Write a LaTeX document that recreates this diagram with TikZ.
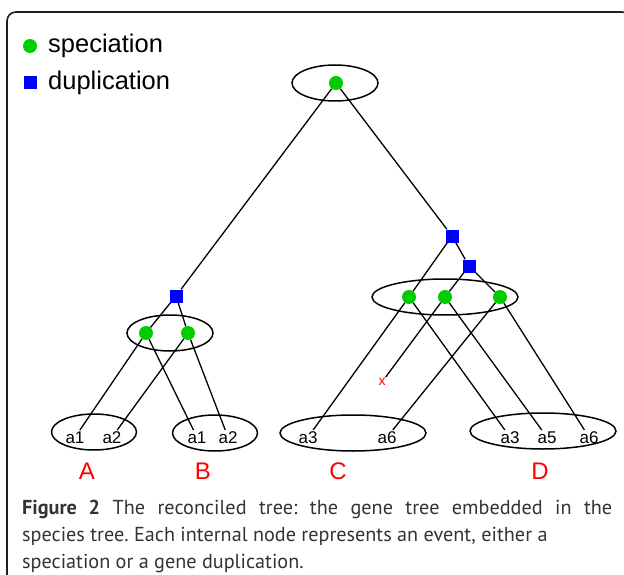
\documentclass[tikz,border=0pt]{standalone}
\usepackage{fontspec}
\setmainfont{Liberation Sans}
\newfontfamily\capfont{PT Sans}
\usetikzlibrary{shapes.geometric}
\definecolor{specgreen}{RGB}{0,204,0}
\definecolor{dupblue}{RGB}{0,0,255}
\definecolor{lblred}{RGB}{255,0,0}
\definecolor{framegray}{RGB}{30,30,30}
\tikzset{
  spec/.style={circle,fill=specgreen,draw=none,minimum size=14pt,inner sep=0pt},
  dup/.style={rectangle,fill=dupblue,draw=none,minimum size=13pt,inner sep=0pt},
  ell/.style={ellipse,draw=black,line width=1.5pt,minimum height=36pt,inner sep=0pt},
  leaf/.style={font=\fontsize{17}{17}\selectfont,inner sep=1pt,anchor=base},
  sp/.style={font=\fontsize{24}{24}\selectfont,text=lblred,inner sep=0pt,anchor=base},
  edge/.style={draw=black,line width=1.3pt},
  legtext/.style={font=\fontsize{25.5}{25.5}\selectfont,inner sep=0pt,anchor=base west},
  captext/.style={font=\capfont\frenchspacing\fontsize{20.2}{20.2}\selectfont,text=black!80,inner sep=0pt,anchor=base west}
}
\begin{document}
\begin{tikzpicture}[x=1pt,y=-1pt]
\useasboundingbox (0,0) rectangle (624,575);
\begin{scope}
\clip (0,0) rectangle (624,575);
\draw[framegray,line width=1.6pt,rounded corners=9pt] (7,600) -- (7,12) -- (631,12) -- (631,600);
\end{scope}

% legend
\node[spec] (lg) at (30,46) {};
\node[legtext] (lgt) at (48,53) {speciation};
\node[dup] (lb) at (30,83) {};
\node[legtext] (lbt) at (48,90) {duplication};

% ellipses (species tree)
\node[ell,minimum width=86pt] (eRoot) at (335,83) {};
\node[ell,minimum width=86pt] (eAB) at (170,333) {};
\node[ell,minimum width=146pt] (eCD) at (445,297) {};
\node[ell,minimum width=85pt] (eA) at (94,432) {};
\node[ell,minimum width=85pt] (eB) at (215,433) {};
\node[ell,minimum width=146pt] (eC) at (353,433) {};
\node[ell,minimum width=146pt] (eD) at (543,431) {};

% leaf labels
\node[leaf] (A1) at (75,443) {a1};
\node[leaf] (A2) at (112,443) {a2};
\node[leaf] (B1) at (197,443) {a1};
\node[leaf] (B2) at (228,443) {a2};
\node[leaf] (C3) at (308,443) {a3};
\node[leaf] (C6) at (387,443) {a6};
\node[leaf] (D3) at (510,443) {a3};
\node[leaf] (D5) at (547,443) {a5};
\node[leaf] (D6) at (589,443) {a6};
\node[font=\fontsize{14}{14}\selectfont,text=lblred,inner sep=1pt] (xm) at (382,382) {x};

% species letters
\node[sp] (sA) at (87,479) {A};
\node[sp] (sB) at (203,479) {B};
\node[sp] (sC) at (338,479) {C};
\node[sp] (sD) at (540,479) {D};

% gene tree events
\node[spec] (g0) at (336,83) {};
\node[dup] (d1) at (176,296) {};
\node[spec] (g1) at (146,333) {};
\node[spec] (g2) at (188,333) {};
\node[dup] (d2) at (452,236) {};
\node[dup] (d3) at (469,266) {};
\node[spec] (g3) at (409,297) {};
\node[spec] (g4) at (445,297) {};
\node[spec] (g5) at (500,297) {};

% gene tree edges
\draw[edge] (g0) -- (d1);
\draw[edge] (g0) -- (d2);
\draw[edge] (d1) -- (g1);
\draw[edge] (d1) -- (g2);
\draw[edge] (g1) -- (A1);
\draw[edge] (g1) -- (B1);
\draw[edge] (g2) -- (A2);
\draw[edge] (g2) -- (B2);
\draw[edge] (d2) -- (g3);
\draw[edge] (d2) -- (d3);
\draw[edge] (d3) -- (g4);
\draw[edge] (d3) -- (g5);
\draw[edge] (g3) -- (C3);
\draw[edge] (g3) -- (D3);
\draw[edge] (g4) -- (xm);
\draw[edge] (g4) -- (D5);
\draw[edge] (g5) -- (C6);
\draw[edge] (g5) -- (D6);

% caption
\node[captext] (cap1) at (22,514) {\makebox[590pt][s]{\textbf{Figure 2} The reconciled tree: the gene tree embedded in the}};
\node[captext] (cap2) at (22,541) {species tree. Each internal node represents an event, either a};
\node[captext] (cap3) at (22,568) {speciation or a gene duplication.};
\end{tikzpicture}
\end{document}
